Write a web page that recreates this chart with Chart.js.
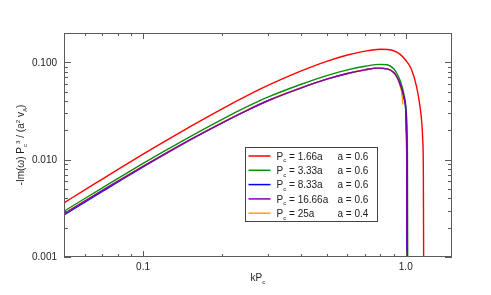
<!DOCTYPE html>
<html>
<head>
<meta charset="utf-8">
<script src="https://cdn.jsdelivr.net/npm/chart.js@4.4.0/dist/chart.umd.min.js"></script>
<style>
html, body { margin: 0; padding: 0; background: #fff; }
#caja { width: 491px; height: 295px; position: relative; }
</style>
</head>
<body>
<div id="caja"><canvas id="grafico"></canvas></div>
<script>
// valores (kPc, -Im(w) Pc^3 / (a^2 vA))
const kRojo = [0.05, 0.06, 0.07, 0.08, 0.1, 0.12, 0.15, 0.2, 0.25, 0.3, 0.4, 0.5, 0.6, 0.7, 0.8, 0.9, 0.95, 1.0, 1.05, 1.1, 1.13, 1.15, 1.16, 1.167, 1.171]
const valRojo = [0.0036, 0.00489, 0.00632, 0.00789, 0.01138, 0.01524, 0.0216, 0.0333, 0.0457, 0.0582, 0.0815, 0.1023, 0.1189, 0.1303, 0.1361, 0.1315, 0.1213, 0.105, 0.0853, 0.056, 0.037, 0.0246, 0.0165, 0.007, 0.0004]

const kVerde = [0.05, 0.06, 0.07, 0.08, 0.1, 0.12, 0.15, 0.2, 0.25, 0.3, 0.4, 0.5, 0.6, 0.7, 0.8, 0.85, 0.9, 0.93, 0.96, 0.985, 1.0, 1.01, 1.015, 1.018]
const valVerde = [0.00295, 0.00399, 0.00514, 0.00639, 0.00914, 0.01214, 0.01708, 0.026, 0.0352, 0.0441, 0.0595, 0.0731, 0.0837, 0.0911, 0.0952, 0.0945, 0.086, 0.075, 0.061, 0.0464, 0.036, 0.0246, 0.012, 0.0004]

const kAzul = [0.05, 0.06, 0.07, 0.08, 0.1, 0.12, 0.15, 0.2, 0.25, 0.3, 0.4, 0.5, 0.6, 0.7, 0.78, 0.85, 0.9, 0.93, 0.96, 0.985, 1.0, 1.005, 1.009, 1.011]
const valAzul = [0.0027, 0.00366, 0.00472, 0.00588, 0.00843, 0.0112, 0.0158, 0.0239, 0.0323, 0.0405, 0.0546, 0.0671, 0.0768, 0.0836, 0.0872, 0.0855, 0.0785, 0.069, 0.0555, 0.0428, 0.032, 0.02, 0.008, 0.0004]

const kMorado = [0.05, 0.06, 0.07, 0.08, 0.1, 0.12, 0.15, 0.2, 0.25, 0.3, 0.4, 0.5, 0.6, 0.7, 0.78, 0.85, 0.9, 0.93, 0.96, 0.985, 1.0, 1.005, 1.009, 1.011]
const valMorado = [0.00278, 0.00376, 0.00484, 0.006, 0.00855, 0.01131, 0.01586, 0.0239, 0.0323, 0.0405, 0.0546, 0.0671, 0.0768, 0.0836, 0.0872, 0.0855, 0.0785, 0.069, 0.0555, 0.0428, 0.032, 0.02, 0.008, 0.0004]

const kNaranja = [0.05, 0.06, 0.07, 0.08, 0.1, 0.12, 0.15, 0.2, 0.25, 0.3, 0.4, 0.5, 0.6, 0.7, 0.78, 0.85, 0.9, 0.93, 0.95, 0.965, 0.975]
const valNaranja = [0.00279, 0.00377, 0.00485, 0.00602, 0.00858, 0.01134, 0.0159, 0.024, 0.0324, 0.0406, 0.0548, 0.0673, 0.077, 0.0838, 0.0874, 0.0857, 0.0786, 0.069, 0.058, 0.049, 0.037]

const etiquetasPc = ['1.66a', '3.33a', '8.33a', '16.66a', '25a']
const etiquetasA = ['0.6', '0.6', '0.6', '0.6', '0.4']
const colores = ['#ff0000', '#0c8c0c', '#0000ff', '#8200a8', '#ffa500']

const ticksX = [0.1, 1.0]
const etiquetasX = ['0.1', '1.0']
const ticksXmenores = [0.06, 0.07, 0.08, 0.09, 0.2, 0.3, 0.4, 0.5, 0.6, 0.7, 0.8, 0.9]
const ticksY = [0.001, 0.01, 0.1]
const etiquetasY = ['0.001', '0.010', '0.100']
const ticksYmenores = [0.002, 0.003, 0.004, 0.005, 0.006, 0.007, 0.008, 0.009, 0.02, 0.03, 0.04, 0.05, 0.06, 0.07, 0.08, 0.09, 0.2]

const FUENTE = '"Liberation Sans", Arial, Helvetica, sans-serif'
const TEXTO = '#222'
const MARCO = '#5a5a5a'

const puntos = (ks, vals) => ks.map((k, i) => ({ x: k, y: vals[i] }))

// texto con subindices / superindices: [texto, 'n' | 'sub' | 'sup']
const textoRico = (c, partes, x, y, tam, alinear) => {
  const fuente = m => (m === 'n' ? tam : tam * 0.62) + 'px ' + FUENTE
  const anchos = partes.map(([t, m]) => { c.font = fuente(m); return c.measureText(t).width })
  const total = anchos.reduce((a, b) => a + b, 0)
  let cx = alinear === 'center' ? x - total / 2 : alinear === 'right' ? x - total : x
  c.textAlign = 'left'
  c.textBaseline = 'alphabetic'
  partes.forEach(([t, m], i) => {
    c.font = fuente(m)
    const dy = m === 'sub' ? tam * 0.28 : m === 'sup' ? -tam * 0.42 : 0
    c.fillText(t, cx, y + dy)
    cx += anchos[i]
  })
}

const ejesIDL = {
  id: 'ejesIDL',
  afterDraw: (chart) => {
    const c = chart.ctx
    const { left, right, top, bottom } = chart.chartArea
    const { x, y } = chart.scales
    c.save()
    c.strokeStyle = MARCO
    c.lineWidth = 1
    c.strokeRect(left + 0.5, top + 0.5, right - left - 1, bottom - top - 1)

    const marcaX = (v, largo) => {
      const px = Math.round(x.getPixelForValue(v)) + 0.5
      c.beginPath()
      c.moveTo(px, bottom); c.lineTo(px, bottom - largo)
      c.moveTo(px, top); c.lineTo(px, top + largo)
      c.stroke()
    }
    const marcaY = (v, largo) => {
      const py = Math.round(y.getPixelForValue(v)) + 0.5
      c.beginPath()
      c.moveTo(left, py); c.lineTo(left + largo, py)
      c.moveTo(right, py); c.lineTo(right - largo, py)
      c.stroke()
    }
    ticksXmenores.forEach(v => marcaX(v, 3))
    ticksX.forEach(v => marcaX(v, 6))
    ticksYmenores.forEach(v => marcaY(v, 4))
    ticksY.forEach(v => marcaY(v, 7))

    c.fillStyle = TEXTO
    c.font = '10px ' + FUENTE
    c.textAlign = 'center'
    c.textBaseline = 'alphabetic'
    ticksX.forEach((v, i) => c.fillText(etiquetasX[i], x.getPixelForValue(v), bottom + 13))
    c.textAlign = 'right'
    c.textBaseline = 'middle'
    ticksY.forEach((v, i) => c.fillText(etiquetasY[i], left - 7, y.getPixelForValue(v) + 0.5))

    // titulos de los ejes
    textoRico(c, [['kP', 'n'], ['c', 'sub']], (left + right) / 2, bottom + 24, 10, 'center')
    c.save()
    c.translate(24, (top + bottom) / 2)
    c.rotate(-Math.PI / 2)
    textoRico(c, [['-Im(', 'n'], ['\u03c9', 'n'], [') P', 'n'], ['c', 'sub'], ['3', 'sup'], [' / (a', 'n'], ['2', 'sup'], [' v', 'n'], ['A', 'sub'], [')', 'n']], 0, 0, 10, 'center')
    c.restore()

    // leyenda
    const lx = 245.5, ly = 147.5, lw = 132, lh = 74
    c.fillStyle = '#fff'
    c.fillRect(lx, ly, lw, lh)
    c.strokeStyle = '#444'
    c.strokeRect(lx, ly, lw, lh)
    etiquetasPc.forEach((pc, i) => {
      const fy = ly + 8.5 + i * 14.3
      c.strokeStyle = colores[i]
      c.lineWidth = 1.5
      c.beginPath()
      c.moveTo(lx + 3, fy); c.lineTo(lx + 25, fy)
      c.stroke()
      c.fillStyle = TEXTO
      textoRico(c, [['P', 'n'], ['c', 'sub'], [' = ' + pc, 'n']], lx + 31, fy + 3.6, 10, 'left')
      textoRico(c, [['a = ' + etiquetasA[i], 'n']], lx + 92, fy + 3.6, 10, 'left')
    })
    c.restore()
  }
}

const series = [
  { k: kRojo, v: valRojo, color: colores[0], orden: 4 },
  { k: kVerde, v: valVerde, color: colores[1], orden: 3 },
  { k: kAzul, v: valAzul, color: colores[2], orden: 2 },
  { k: kMorado, v: valMorado, color: colores[3], orden: 0 },
  { k: kNaranja, v: valNaranja, color: colores[4], orden: 1 }
]

new Chart(document.getElementById('grafico'), {
  type: 'line',
  data: {
    datasets: series.map((s, i) => ({
      label: 'Pc = ' + etiquetasPc[i] + '  a = ' + etiquetasA[i],
      data: puntos(s.k, s.v),
      borderColor: s.color,
      backgroundColor: s.color,
      borderWidth: 1.4,
      pointRadius: 0,
      cubicInterpolationMode: 'monotone',
      order: s.orden
    }))
  },
  options: {
    responsive: true,
    maintainAspectRatio: false,
    animation: false,
    layout: { padding: { left: 64, right: 39, top: 33, bottom: 38 } },
    plugins: { legend: { display: false }, tooltip: { enabled: false } },
    scales: {
      x: { type: 'logarithmic', min: 0.05, max: 1.5, display: false },
      y: { type: 'logarithmic', min: 0.001, max: 0.2, display: false }
    }
  },
  plugins: [ejesIDL]
})
</script>
</body>
</html>
